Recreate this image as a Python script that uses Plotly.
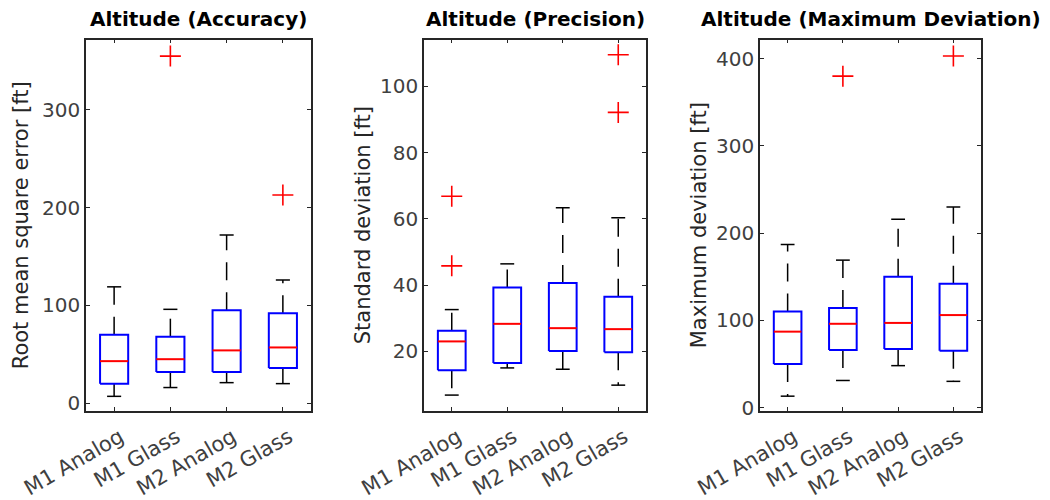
import plotly.graph_objects as go

# ---------------- data ----------------
categories = ["M1 Analog", "M1 Glass", "M2 Analog", "M2 Glass"]

# Altitude (Accuracy) - RMSE [ft]
acc_lower = [7, 16, 21, 20]
acc_q1 = [20, 32, 32, 36]
acc_median = [43, 45, 54, 57]
acc_q3 = [70, 68, 95, 92]
acc_upper = [119, 96, 172, 126]
acc_outliers = [[], [355], [], [213]]

# Altitude (Precision) - standard deviation [ft]
prec_lower = [6.8, 15, 14.6, 9.8]
prec_q1 = [14.3, 16.5, 20.1, 19.7]
prec_median = [23, 28.3, 27, 26.7]
prec_q3 = [26.2, 39.3, 40.6, 36.5]
prec_upper = [32.6, 46.4, 63.3, 60.3]
prec_outliers = [[66.8, 45.8], [], [], [109.5, 92.1]]

# Altitude (Maximum Deviation) [ft]
dev_lower = [13, 31, 48, 30]
dev_q1 = [50, 66, 67, 65]
dev_median = [87, 96, 97, 106]
dev_q3 = [110, 114, 150, 142]
dev_upper = [187, 169, 216, 230]
dev_outliers = [[], [380], [], [403]]

titles = ["Altitude (Accuracy)", "Altitude (Precision)", "Altitude (Maximum Deviation)"]
ylabels = ["Root mean square error [ft]", "Standard deviation [ft]", "Maximum deviation [ft]"]

# ---------------- style / layout ----------------
W, H = 1050, 500
x_domains = [(86, 311), (424, 646), (760, 981)]
y_top, y_bot = 39.5, 411
y_ranges = [(-8, 372), (2, 114.1), (-4, 422)]
y_dticks = [100, 20, 100]
ylabel_x = [21, 363, 699]

BOX_HALF = 0.25
CAP_HALF = 0.125
FONT = "DejaVu Sans"
AX_COLOR = "#262626"
TICK_COLOR = "#404040"

panels = [
    (acc_lower, acc_q1, acc_median, acc_q3, acc_upper, acc_outliers),
    (prec_lower, prec_q1, prec_median, prec_q3, prec_upper, prec_outliers),
    (dev_lower, dev_q1, dev_median, dev_q3, dev_upper, dev_outliers),
]

fig = go.Figure()

for p, (lo, q1, med, q3, up, outl) in enumerate(panels):
    xa = "x" if p == 0 else f"x{p+1}"
    ya = "y" if p == 0 else f"y{p+1}"
    for i in range(len(categories)):
        c = i + 1
        # whiskers (dashed, drawn from box outward)
        for y0, y1 in ((q3[i], up[i]), (q1[i], lo[i])):
            fig.add_trace(go.Scatter(
                x=[c, c], y=[y0, y1], mode="lines",
                line=dict(color="black", width=1.5, dash="18px,12px"),
                xaxis=xa, yaxis=ya, showlegend=False, hoverinfo="skip"))
        # caps
        for yv in (up[i], lo[i]):
            fig.add_trace(go.Scatter(
                x=[c - CAP_HALF, c + CAP_HALF], y=[yv, yv], mode="lines",
                line=dict(color="black", width=1.5),
                xaxis=xa, yaxis=ya, showlegend=False, hoverinfo="skip"))
        # box
        fig.add_trace(go.Scatter(
            x=[c - BOX_HALF, c + BOX_HALF, c + BOX_HALF, c - BOX_HALF, c - BOX_HALF],
            y=[q1[i], q1[i], q3[i], q3[i], q1[i]], mode="lines",
            line=dict(color="#0000ff", width=2),
            xaxis=xa, yaxis=ya, showlegend=False, hoverinfo="skip"))
        # median
        fig.add_trace(go.Scatter(
            x=[c - BOX_HALF, c + BOX_HALF], y=[med[i], med[i]], mode="lines",
            line=dict(color="#ff0000", width=2),
            xaxis=xa, yaxis=ya, showlegend=False, hoverinfo="skip"))
        # outliers
        if outl[i]:
            fig.add_trace(go.Scatter(
                x=[c] * len(outl[i]), y=outl[i], mode="markers",
                marker=dict(symbol="cross-thin", size=15,
                            line=dict(color="#ff0000", width=1.6)),
                xaxis=xa, yaxis=ya, showlegend=False, hoverinfo="skip"))

layout = dict(
    width=W, height=H,
    margin=dict(l=0, r=0, t=0, b=0, autoexpand=False),
    paper_bgcolor="white", plot_bgcolor="white",
    showlegend=False,
    font=dict(family=FONT, color=AX_COLOR),
)

annotations = []
for p in range(3):
    xk = "xaxis" if p == 0 else f"xaxis{p+1}"
    yk = "yaxis" if p == 0 else f"yaxis{p+1}"
    x0, x1 = x_domains[p]
    layout[xk] = dict(
        domain=[x0 / W, x1 / W],
        anchor="y" if p == 0 else f"y{p+1}",
        range=[0.5, len(categories) + 0.5],
        tickmode="array", tickvals=list(range(1, len(categories) + 1)),
        ticktext=categories, tickangle=-30,
        tickfont=dict(family=FONT, size=21, color=TICK_COLOR),
        ticklabelstandoff=4, ticklabelshift=6,
        ticks="inside", ticklen=4, tickwidth=1, tickcolor=AX_COLOR,
        showline=True, linecolor=AX_COLOR, linewidth=1.5, mirror="ticks",
        showgrid=False, zeroline=False, automargin=False,
    )
    layout[yk] = dict(
        domain=[1 - y_bot / H, 1 - y_top / H],
        anchor="x" if p == 0 else f"x{p+1}",
        range=list(y_ranges[p]), dtick=y_dticks[p], tick0=0,
        tickfont=dict(family=FONT, size=20, color=TICK_COLOR),
        ticks="inside", ticklen=4, tickwidth=1, tickcolor=AX_COLOR,
        showline=True, linecolor=AX_COLOR, linewidth=1.5, mirror="ticks",
        showgrid=False, zeroline=False, automargin=False,
    )
    annotations.append(dict(
        text=f"<b>{titles[p]}</b>", xref="paper", yref="paper",
        x=(x0 + x1) / 2 / W, y=1 - 19 / H, xanchor="center", yanchor="middle",
        showarrow=False, font=dict(family=FONT, size=20, color="black")))
    annotations.append(dict(
        text=ylabels[p], xref="paper", yref="paper", textangle=-90,
        x=ylabel_x[p] / W, y=1 - (y_top + y_bot) / 2 / H,
        xanchor="center", yanchor="middle",
        showarrow=False, font=dict(family=FONT, size=21, color=AX_COLOR)))

layout["annotations"] = annotations
fig.update_layout(**layout)

fig.write_html("out.html")
